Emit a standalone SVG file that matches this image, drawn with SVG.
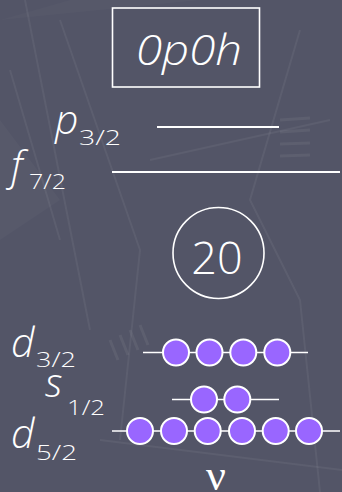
<svg xmlns="http://www.w3.org/2000/svg" width="342" height="492" viewBox="0 0 342 492">
  <defs>
    <style>
      .bg { fill: #535567; }
      .deco { fill: none; stroke: #ffffff; stroke-opacity: 0.055; stroke-width: 2; }
      .tick { stroke: #ffffff; stroke-opacity: 0.06; stroke-width: 3; }
      .lbl { font-family: "Open Sans", "DejaVu Sans", sans-serif; font-weight: 300; fill: #ffffff; }
      .it { font-style: italic; }
      .main { font-size: 41px; }
      .sub { font-size: 21px; }
      .level { stroke: #ffffff; stroke-width: 2; fill: none; }
      .orb { stroke: #ffffff; stroke-width: 1.5; fill: none; }
      .nuc { fill: #9966ff; stroke: #ffffff; stroke-width: 2; }
      .frame { fill: none; stroke: #ffffff; stroke-width: 1.6; }
    </style>
  </defs>

  <!-- backdrop -->
  <rect class="bg" x="0" y="0" width="342" height="492"/>
  <g id="backdrop">
    <path d="M0 20 L70 0 L200 0 Z" fill="#ffffff" fill-opacity="0.02"/>
    <path d="M0 240 L60 200 L0 120 Z" fill="#ffffff" fill-opacity="0.025"/>
    <path d="M10 70 L60 240" class="deco"/>
    <path d="M25 0 L90 330" class="deco"/>
    <path d="M60 20 L140 250 L120 440" class="deco"/>
    <path d="M300 30 L250 200 L300 300 L320 492" class="deco"/>
    <path d="M150 160 L330 120" class="deco"/>
    <path d="M100 440 L342 470" class="deco"/>
    <g class="tick">
      <line x1="280" y1="120" x2="310" y2="118"/>
      <line x1="280" y1="132" x2="310" y2="130"/>
      <line x1="280" y1="144" x2="310" y2="143"/>
      <line x1="280" y1="156" x2="310" y2="155"/>
      <line x1="110" y1="340" x2="118" y2="360"/>
      <line x1="120" y1="335" x2="128" y2="355"/>
      <line x1="130" y1="330" x2="138" y2="350"/>
      <line x1="140" y1="325" x2="148" y2="345"/>
    </g>
  </g>

  <!-- configuration label -->
  <g id="config">
    <rect class="frame" x="112.5" y="8" width="147" height="79"/>
    <text class="lbl it" x="136" y="65" font-size="42" textLength="106" lengthAdjust="spacingAndGlyphs">0p0h</text>
  </g>

  <!-- empty upper levels -->
  <g id="p32">
    <text class="lbl it main" x="55" y="134">p</text>
    <text class="lbl sub" x="79" y="145" textLength="42" lengthAdjust="spacingAndGlyphs">3/2</text>
  </g>
  <g id="f72">
    <text class="lbl it main" x="11" y="180">f</text>
    <text class="lbl sub" x="29" y="189" textLength="37" lengthAdjust="spacingAndGlyphs">7/2</text>
  </g>

  <!-- core -->
  <g id="core">
    <circle class="frame" cx="218.5" cy="253" r="45.5"/>
    <text class="lbl" x="217" y="274" font-size="45" text-anchor="middle">20</text>
  </g>

  <!-- filled lower levels -->
  <g id="d32">
    <text class="lbl it main" x="11" y="357">d</text>
    <text class="lbl sub" x="36" y="367" textLength="40" lengthAdjust="spacingAndGlyphs">3/2</text>
  </g>
  <g id="s12">
    <text class="lbl it main" x="45" y="397">s</text>
    <text class="lbl sub" x="67" y="415" textLength="38" lengthAdjust="spacingAndGlyphs">1/2</text>
  </g>
  <g id="d52">
    <text class="lbl it main" x="11" y="448">d</text>
    <text class="lbl sub" x="36" y="460" textLength="41" lengthAdjust="spacingAndGlyphs">5/2</text>
  </g>
  <g id="nu">
    <text x="216" y="490" font-family="Liberation Serif, serif" font-size="44" fill="#ffffff" text-anchor="middle">ν</text>
  </g>

  <!-- level lines -->
  <g id="levels">
    <line class="level" x1="157" y1="127" x2="279" y2="127"/>
    <line class="level" x1="112" y1="172" x2="340" y2="172"/>
    <line class="orb" x1="143" y1="352.5" x2="308" y2="352.5"/>
    <line class="orb" x1="172" y1="399.5" x2="279" y2="399.5"/>
    <line class="orb" x1="112" y1="431" x2="340" y2="431"/>
  </g>

  <!-- occupied states -->
  <g id="occupancy">
    <circle class="nuc" cx="176" cy="352.5" r="13"/>
    <circle class="nuc" cx="209.5" cy="352.5" r="13"/>
    <circle class="nuc" cx="243.3" cy="352.5" r="13"/>
    <circle class="nuc" cx="277.3" cy="352.5" r="13"/>
    <circle class="nuc" cx="204" cy="399.5" r="13"/>
    <circle class="nuc" cx="237.3" cy="399.5" r="13"/>
    <circle class="nuc" cx="140" cy="431" r="13"/>
    <circle class="nuc" cx="174" cy="431" r="13"/>
    <circle class="nuc" cx="207.7" cy="431" r="13"/>
    <circle class="nuc" cx="242" cy="431" r="13"/>
    <circle class="nuc" cx="275.7" cy="431" r="13"/>
    <circle class="nuc" cx="309" cy="431" r="13"/>
  </g>
</svg>
